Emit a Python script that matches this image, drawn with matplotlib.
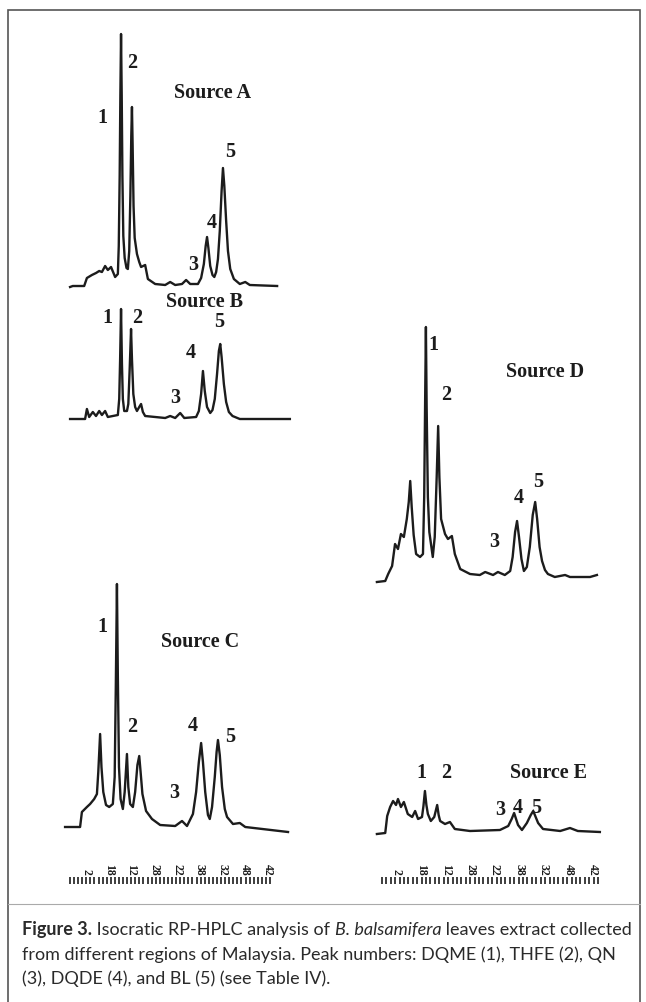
import matplotlib
matplotlib.use("Agg")
import matplotlib.pyplot as plt
from matplotlib.patches import Rectangle
from matplotlib.lines import Line2D

W, H = 646, 1003

# retention time (min) and detector signal (a.u.)
time_a = [-1.5, -0.9, 1.6, 2.2, 3.3, 4.2, 4.9, 5.5, 6.2, 6.8, 7.5, 8.4, 9.0, 9.2, 9.4, 9.55, 9.7,
          9.85, 10.0, 10.2, 10.5, 10.9, 11.2, 11.5, 11.75, 11.95, 12.1, 12.25, 12.45, 12.7, 13.2,
          13.7, 14.1, 15.0, 15.6, 17.2, 19.4, 20.5, 21.6, 23.1, 24.0, 24.9, 26.6, 27.3, 27.9, 28.3,
          28.6, 28.9, 29.3, 29.8, 30.2, 30.6, 31.0, 31.4, 31.8, 32.1, 32.4, 32.8, 33.2, 33.7, 34.5,
          35.8, 37.0, 38.0, 44.0]
sig_a = [-1, 0, 0, 8, 11, 13, 15, 14, 20, 16, 19, 9, 12, 40, 110, 190, 252,
         190, 110, 50, 28, 18, 17, 35, 90, 150, 179, 140, 80, 48, 32,
         24, 19, 21, 7, 2, 1, 4, 1, 2, 6, 2, 2, 8, 22, 40,
         49, 38, 20, 11, 9, 14, 27, 55, 95, 118, 100, 65, 35, 17, 7,
         2, 4, 1, 0]

time_b = [-1.5, 1.8, 2.2, 2.7, 3.5, 4.2, 4.9, 5.5, 6.2, 6.8, 7.9, 9.0, 9.3, 9.5, 9.7, 9.9, 10.1,
          10.4, 11.0, 11.3, 11.6, 11.9, 12.1, 12.4, 12.8, 13.2, 13.7, 14.1, 14.5, 15.0, 19.4, 20.5,
          21.6, 22.7, 23.6, 26.2, 26.8, 27.3, 27.7, 28.1, 28.6, 29.3, 29.8, 30.3, 30.8, 31.2, 31.5,
          31.8, 32.3, 32.8, 33.4, 34.2, 35.8, 46.8]
sig_b = [0, 0, 10, 2, 7, 3, 8, 4, 8, 2, 3, 4, 20, 60, 110, 55, 20,
         8, 8, 15, 50, 90, 60, 25, 12, 8, 12, 15, 7, 3, 1, 3,
         1, 6, 1, 2, 8, 25, 48, 28, 12, 6, 9, 20, 45, 68, 75,
         62, 35, 17, 7, 3, 0, 0]

time_c = [-2.6, 0.7, 1.1, 2.2, 2.9, 3.8, 4.4, 4.7, 5.1, 5.4, 5.8, 6.4, 7.1, 7.9, 8.3, 8.55, 8.8,
          9.0, 9.25, 9.6, 10.1, 10.5, 11.0, 11.3, 11.7, 12.3, 12.8, 13.3, 13.7, 14.0, 14.4, 15.2,
          16.5, 18.3, 21.6, 23.1, 24.2, 25.5, 26.2, 26.8, 27.3, 27.7, 28.2, 28.8, 29.2, 29.7, 30.3,
          30.7, 31.0, 31.4, 31.9, 32.5, 33.0, 34.3, 35.8, 37.0, 46.4]
sig_c = [0, 0, 15, 20, 23, 28, 33, 55, 93, 60, 35, 22, 20, 23, 50, 140, 243,
         150, 60, 28, 18, 35, 73, 40, 23, 20, 35, 62, 71, 55, 33, 16,
         8, 2, 1, 6, 1, 13, 35, 65, 84, 65, 35, 12, 8, 20, 50,
         75, 87, 72, 40, 18, 10, 3, 4, 0, -5]

time_d = [-2.1, -0.4, 0.2, 1.0, 1.6, 2.2, 2.8, 3.4, 4.0, 4.4, 4.7, 5.0, 5.4, 5.9, 6.7, 7.3, 7.55,
          7.75, 7.9, 8.05, 8.3, 8.6, 9.3, 9.7, 10.1, 10.4, 10.65, 11.0, 11.8, 12.4, 13.2, 13.8,
          14.9, 16.9, 18.9, 20.0, 21.6, 22.6, 24.0, 25.1, 25.6, 26.1, 26.5, 26.9, 27.4, 27.9, 28.5,
          29.1, 29.7, 30.2, 30.6, 31.1, 31.6, 32.2, 32.8, 34.2, 36.3, 37.3, 41.4, 42.8]
sig_d = [-5, -4, 3, 11, 33, 28, 43, 40, 58, 75, 96, 70, 42, 23, 20, 23, 80,
         180, 250, 170, 80, 45, 20, 40, 100, 151, 100, 58, 43, 38, 41, 23,
         8, 3, 2, 5, 2, 5, 2, 6, 20, 45, 56, 40, 18, 6, 10,
         30, 62, 75, 58, 30, 16, 7, 3, 0, 2, 0, 0, 2]

time_e = [-2.1, -0.4, 0.0, 0.6, 1.2, 1.8, 2.2, 2.8, 3.4, 4.2, 5.1, 5.7, 6.3, 7.1, 7.4, 7.7, 8.0,
          8.3, 8.9, 9.6, 10.2, 10.5, 10.8, 11.8, 12.8, 13.8, 16.9, 23.0, 24.7, 25.4, 25.9, 26.3,
          26.7, 27.5, 28.5, 29.3, 29.8, 30.3, 30.8, 31.8, 35.3, 37.3, 38.9, 43.4]
sig_e = [-3, -2, 15, 24, 30, 26, 32, 24, 29, 17, 14, 20, 12, 14, 25, 40, 26,
         17, 10, 14, 26, 16, 10, 7, 9, 2, 0, 1, 5, 12, 18, 12,
         6, 1, 8, 16, 20, 14, 8, 2, 0, 3, 0, -1]

tick_pos = [2, 7, 12, 17, 22, 27, 32, 37, 42]
tick_labels = ["2", "18", "12", "28", "22", "38", "32", "48", "42"]

fig = plt.figure(figsize=(W / 100, H / 100), dpi=100)
ink = "#1c1c1c"


def px_axes(x0, y0, x1, y1):
    ax = fig.add_axes([x0 / W, 1 - y1 / H, (x1 - x0) / W, (y1 - y0) / H])
    ax.set_axis_off()
    return ax


def fx(px):
    return px / W


def fy(py):
    return 1 - py / H


# two columns, each with its own time scale (pixel span of the axes, time span)
cols = {"L": (60, 300, -3.714, 49.03), "R": (370, 620, -3.51, 47.51)}

panels = [
    ("L", 20, 300, 287, time_a, sig_a),
    ("L", 300, 430, 420, time_b, sig_b),
    ("L", 570, 845, 828, time_c, sig_c),
    ("R", 320, 590, 578, time_d, sig_d),
    ("R", 760, 845, 832, time_e, sig_e),
]
for col, top, bot, base, t, s in panels:
    x0, x1, t0, t1 = cols[col]
    ax = px_axes(x0, top, x1, bot)
    ax.plot(t, s, color=ink, lw=1.7, solid_joinstyle="round")
    ax.set_xlim(t0, t1)
    ax.set_ylim(base - bot, base - top)

# peak numbers and panel titles
labels = [
    ("Source A", 213, 93), ("1", 102, 118), ("2", 132, 63), ("3", 193, 265), ("4", 212, 223), ("5", 230, 152),
    ("Source B", 205, 302), ("1", 107, 318), ("2", 137, 318), ("3", 175, 398), ("4", 191, 353), ("5", 219, 322),
    ("Source C", 200, 642), ("1", 102, 627), ("2", 132, 727), ("3", 174, 793), ("4", 193, 726), ("5", 230, 737),
    ("Source D", 545, 372), ("1", 433, 345), ("2", 446, 395), ("3", 494, 542), ("4", 519, 498), ("5", 538, 482),
    ("Source E", 548, 773), ("1", 421, 773), ("2", 446, 773), ("3", 500, 810), ("4", 518, 808), ("5", 536, 808),
]
for txt, x, y in labels:
    fig.text(fx(x), fy(y), txt, family="Liberation Serif", weight="bold", fontsize=14.5,
             ha="center", va="center", color=ink)

# time axes (labels above a row of small ticks)
for col, a, b in (("L", 70, 270), ("R", 382, 598)):
    x0, x1, t0, t1 = cols[col]
    ax = fig.add_axes([fx(x0), fy(886), fx(x1) - fx(x0), 0.001])
    for sp in ax.spines.values():
        sp.set_visible(False)
    ax.set_xlim(t0, t1)
    ax.set_yticks([])
    ax.xaxis.set_ticks_position("top")
    ax.set_xticks(tick_pos)
    ax.set_xticklabels(tick_labels, rotation=-90, family="Liberation Serif",
                       weight="bold", fontsize=8.5, color=ink)
    ta = t0 + (a - x0) / (x1 - x0) * (t1 - t0)
    tb = t0 + (b - x0) / (x1 - x0) * (t1 - t0)
    n = 50
    ax.set_xticks([ta + i * (tb - ta) / (n - 1) for i in range(n)], minor=True)
    ax.tick_params(axis="x", which="both", direction="out", length=5, width=1.2,
                   color=ink, top=True, bottom=False)
    ax.tick_params(axis="x", which="major", length=0, pad=7)

# frame and caption rule
fig.add_artist(Rectangle((fx(8), fy(1010)), fx(640) - fx(8), fy(11) - fy(1010),
                         transform=fig.transFigure, fill=False, lw=1.2, ec="#555555"))
fig.add_artist(Line2D([fx(8), fx(640)], [fy(905), fy(905)], transform=fig.transFigure,
                      lw=0.8, color="#aaaaaa"))

# caption with mixed styles, size chosen so the widest line spans the column
cap_font = ["Lato", "DejaVu Sans"]
caption = [
    (930, [("Figure 3.", "bold", "normal"), (" Isocratic RP-HPLC analysis of ", "normal", "normal"),
           ("B. balsamifera", "normal", "italic"), (" leaves extract collected", "normal", "normal")]),
    (955, [("from different regions of Malaysia. Peak numbers: DQME (1), THFE (2), QN", "normal", "normal")]),
    (979, [("(3), DQDE (4), and BL (5) (see Table IV).", "normal", "normal")]),
]
fig.canvas.draw()
r = fig.canvas.get_renderer()
widest = 0
for y, runs in caption:
    w = 0
    for txt, wt, st in runs:
        p = fig.text(0, 0, txt, family=cap_font, weight=wt, style=st, fontsize=12)
        w += p.get_window_extent(r).width
        p.remove()
    widest = max(widest, w)
cap_size = 12 * 608 / widest
for y, runs in caption:
    x = 22
    for txt, wt, st in runs:
        t = fig.text(fx(x), fy(y), txt, family=cap_font, weight=wt, style=st,
                     fontsize=cap_size, va="center", ha="left", color="#2a2a2a")
        x += t.get_window_extent(r).width

fig.savefig("out.png", dpi=100)
